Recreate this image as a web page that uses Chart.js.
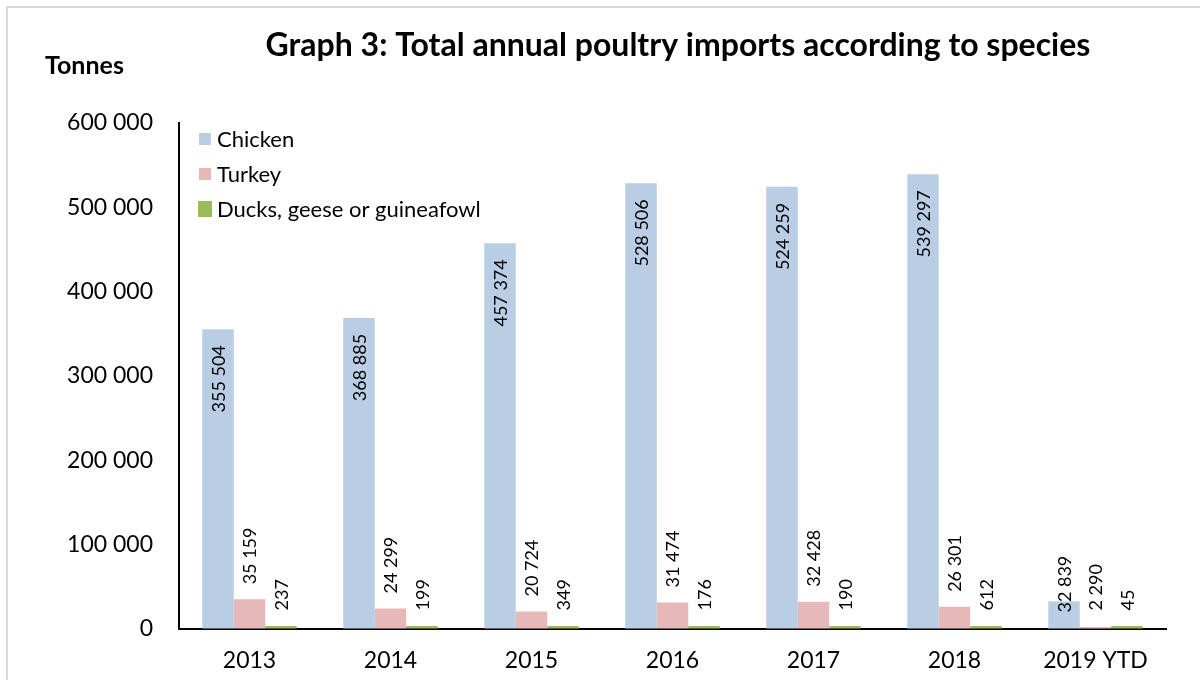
<!DOCTYPE html>
<html>
<head>
<meta charset="utf-8">
<script src="https://cdn.jsdelivr.net/npm/chart.js@4.4.1/dist/chart.umd.min.js"></script>
<style>
  html, body { margin: 0; padding: 0; background: #fff; }
  #c { display: block; }
</style>
</head>
<body>
<canvas id="c" width="1200" height="680"></canvas>
<script>
const years = ["2013", "2014", "2015", "2016", "2017", "2018", "2019 YTD"];
const chicken = [355504, 368885, 457374, 528506, 524259, 539297, 32839];
const turkey = [35159, 24299, 20724, 31474, 32428, 26301, 2290];
const ducks = [237, 199, 349, 176, 190, 612, 45];
const seriesNames = ["Chicken", "Turkey", "Ducks, geese or guineafowl"];
const seriesColors = ["#b9cde5", "#e6b9b8", "#9bbb59"];

const FONT = "Lato, 'Open Sans', sans-serif";

function fmt(n) {
    return String(n).replace(/\B(?=(\d{3})+(?!\d))/g, " ");
}

// frame, title and axis title
const decorations = {
    id: "decorations",
    beforeDraw(chart) {
        const ctx = chart.ctx;
        ctx.save();
        ctx.fillStyle = "#fff";
        ctx.fillRect(0, 0, chart.width, chart.height);
        ctx.strokeStyle = "#d9d9d9";
        ctx.lineWidth = 2;
        ctx.strokeRect(7, 7, chart.width + 10, chart.height + 10);
        ctx.fillStyle = "#000";
        ctx.textBaseline = "alphabetic";
        ctx.textAlign = "center";
        ctx.font = "bold 32px " + FONT;
        ctx.fillText("Graph 3: Total annual poultry imports according to species", 678, 56);
        ctx.textAlign = "left";
        ctx.font = "bold 25px " + FONT;
        ctx.fillText("Tonnes", 45, 74);
        ctx.restore();
    }
};

// legend inside the plot, top left
const insideLegend = {
    id: "insideLegend",
    afterDraw(chart) {
        const ctx = chart.ctx;
        const left = chart.chartArea.left;
        ctx.save();
        ctx.font = "22px " + FONT;
        ctx.textBaseline = "middle";
        ctx.textAlign = "left";
        chart.data.datasets.forEach((ds, i) => {
            const cy = 139 + i * 35;
            ctx.fillStyle = ds.backgroundColor;
            if (i === 2) ctx.fillRect(left + 19, cy - 8, 14, 16);
            else ctx.fillRect(left + 20, cy - 6, 12, 12);
            ctx.fillStyle = "#000";
            ctx.fillText(ds.label, left + 38, cy + 1);
        });
        ctx.restore();
    }
};

// rotated value labels
const valueLabels = {
    id: "valueLabels",
    afterDatasetsDraw(chart) {
        const ctx = chart.ctx;
        ctx.save();
        ctx.font = "18px " + FONT;
        ctx.fillStyle = "#000";
        ctx.textBaseline = "middle";
        chart.data.datasets.forEach((ds, i) => {
            const meta = chart.getDatasetMeta(i);
            meta.data.forEach((bar, j) => {
                const text = fmt(ds.data[j]);
                const w = ctx.measureText(text).width;
                const top = Math.min(bar.y, bar.base - 3);
                let y, align;
                if (i === 0) {
                    // inside end
                    y = Math.min(top + 16, bar.base - 16 - w);
                    align = "right";
                } else {
                    y = top - 15;
                    align = "left";
                }
                ctx.save();
                ctx.translate(bar.x, y);
                ctx.rotate(-Math.PI / 2);
                ctx.textAlign = align;
                ctx.fillText(text, 0, 1);
                ctx.restore();
            });
        });
        ctx.restore();
    }
};

new Chart(document.getElementById("c"), {
    type: "bar",
    data: {
        labels: years,
        datasets: [
            { label: seriesNames[0], data: chicken, backgroundColor: seriesColors[0] },
            { label: seriesNames[1], data: turkey, backgroundColor: seriesColors[1] },
            { label: seriesNames[2], data: ducks, backgroundColor: seriesColors[2], minBarLength: 3 }
        ]
    },
    options: {
        responsive: false,
        animation: false,
        devicePixelRatio: 1,
        layout: { padding: { left: 0, top: 123, right: 34, bottom: 0 } },
        datasets: {
            bar: { categoryPercentage: 0.67, barPercentage: 1 }
        },
        plugins: {
            legend: { display: false },
            title: { display: false },
            tooltip: { enabled: false }
        },
        scales: {
            x: {
                grid: { drawOnChartArea: false, drawTicks: false },
                border: { display: true, color: "#000", width: 2 },
                ticks: { color: "#000", font: { family: FONT, size: 23 }, padding: 18, maxRotation: 0 },
                afterFit(scale) { scale.height = 51; }
            },
            y: {
                min: 0,
                max: 600000,
                grid: { drawOnChartArea: false, drawTicks: false },
                border: { display: true, color: "#000", width: 2 },
                ticks: {
                    stepSize: 100000,
                    color: "#000",
                    font: { family: FONT, size: 23 },
                    padding: 26,
                    callback: v => fmt(v)
                },
                afterFit(scale) { scale.width = 179; }
            }
        }
    },
    plugins: [decorations, valueLabels, insideLegend]
});
</script>
</body>
</html>
